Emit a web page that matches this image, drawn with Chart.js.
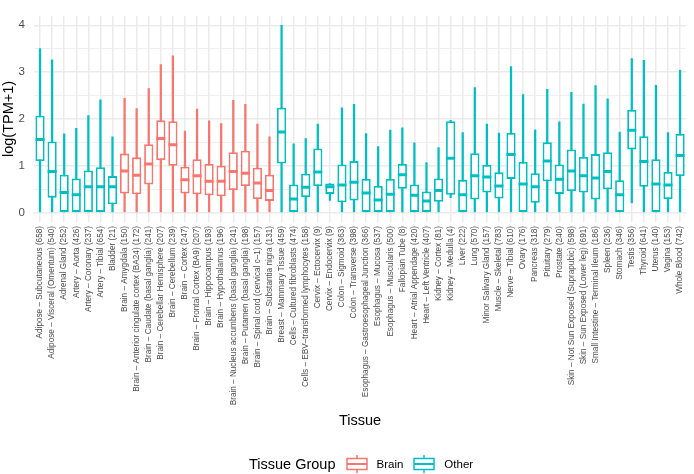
<!DOCTYPE html>
<html>
<head>
<meta charset="utf-8">
<script src="https://cdn.jsdelivr.net/npm/chart.js@4.4.0/dist/chart.umd.min.js"></script>
<style>
  body { margin: 0; background: #fff; font-family: 'Liberation Sans', Arial, sans-serif; }
  #wrap { position: relative; width: 694px; height: 474px; }
  #legend { position: absolute; left: 249px; top: 454px; height: 20px; display: flex; align-items: center; color: #000; }
  #legend .title { font-size: 14.5px; margin-right: 10px; }
  #legend .lab { font-size: 11.5px; margin: 0 10px 0 9px; }
  #legend svg { display: block; }
</style>
</head>
<body>
<div id="wrap">
  <canvas id="boxChart" width="694" height="474"></canvas>
  <div id="legend">
    <span class="title">Tissue Group</span>
    <svg width="22" height="18"><line x1="11" y1="0" x2="11" y2="18" stroke="#F8766D" stroke-width="1.5"/><rect x="1" y="3.5" width="20" height="11" fill="#fff" stroke="#F8766D" stroke-width="1.5"/><line x1="1" y1="9" x2="21" y2="9" stroke="#F8766D" stroke-width="2"/></svg>
    <span class="lab">Brain</span>
    <svg width="22" height="18"><line x1="11" y1="0" x2="11" y2="18" stroke="#00BFC4" stroke-width="1.5"/><rect x="1" y="3.5" width="20" height="11" fill="#fff" stroke="#00BFC4" stroke-width="1.5"/><line x1="1" y1="9" x2="21" y2="9" stroke="#00BFC4" stroke-width="2"/></svg>
    <span class="lab">Other</span>
  </div>
</div>
<script>
const tissues = [
  'Adipose – Subcutaneous (658)', 'Adipose – Visceral (Omentum) (540)', 'Adrenal Gland (252)',
  'Artery – Aorta (426)', 'Artery – Coronary (237)', 'Artery – Tibial (654)', 'Bladder (21)',
  'Brain – Amygdala (150)', 'Brain – Anterior cingulate cortex (BA24) (172)',
  'Brain – Caudate (basal ganglia) (241)', 'Brain – Cerebellar Hemisphere (207)',
  'Brain – Cerebellum (239)', 'Brain – Cortex (247)', 'Brain – Frontal Cortex (BA9) (207)',
  'Brain – Hippocampus (193)', 'Brain – Hypothalamus (196)',
  'Brain – Nucleus accumbens (basal ganglia) (241)', 'Brain – Putamen (basal ganglia) (198)',
  'Brain – Spinal cord (cervical c–1) (157)', 'Brain – Substantia nigra (131)',
  'Breast – Mammary Tissue (459)', 'Cells – Cultured fibroblasts (474)',
  'Cells – EBV–transformed lymphocytes (158)', 'Cervix – Ectocervix (9)', 'Cervix – Endocervix (9)',
  'Colon – Sigmoid (363)', 'Colon – Transverse (398)', 'Esophagus – Gastroesophageal Junction (366)',
  'Esophagus – Mucosa (537)', 'Esophagus – Muscularis (500)', 'Fallopian Tube (8)',
  'Heart – Atrial Appendage (420)', 'Heart – Left Ventricle (407)', 'Kidney – Cortex (81)',
  'Kidney – Medulla (4)', 'Liver (222)', 'Lung (570)', 'Minor Salivary Gland (157)',
  'Muscle – Skeletal (783)', 'Nerve – Tibial (610)', 'Ovary (176)', 'Pancreas (318)',
  'Pituitary (279)', 'Prostate (240)', 'Skin – Not Sun Exposed (Suprapubic) (598)',
  'Skin – Sun Exposed (Lower leg) (691)', 'Small Intestine – Terminal Ileum (186)', 'Spleen (236)',
  'Stomach (346)', 'Testis (356)', 'Thyroid (641)', 'Uterus (140)', 'Vagina (153)', 'Whole Blood (742)'
];

// whisker ends and box quartiles, log(TPM+1)
const lo  = [0,0,0,0,0,0,0, 0,0,0,0,0,0,0,0,0,0,0,0,0, 0,0,0,0,0.26,0,0,0,0,0,0,0,0,0,0.32,0,0,0,0,0,0,0,0,0,0,0,0,0,0,0.21,0,0,0,0];
const q1  = [1.10,0.32,0,0,0,0,0.18, 0.41,0.39,0.60,1.12,1.00,0.41,0.39,0.37,0.35,0.48,0.57,0.29,0.25,
             1.05,0,0.33,0.57,0.40,0.22,0.26,0,0,0,0.51,0,0,0.23,0.38,0,0.28,0.43,0.30,0.72,0,0.21,0.67,
             0.40,0.46,0.43,0.28,0.50,0,1.35,0.55,0,0.29,0.78];
const med = [1.56,0.88,0.43,0.38,0.55,0.55,0.55, 0.89,0.80,1.04,1.58,1.45,0.70,0.79,0.67,0.67,0.88,0.84,0.63,0.47,
             1.72,0.29,0.54,0.87,0.55,0.59,0.65,0.42,0.27,0.39,0.81,0.37,0.25,0.47,1.16,0.38,0.79,0.76,0.57,1.24,0.61,0.55,1.10,
             0.71,0.89,0.79,0.74,0.88,0.38,1.76,1.09,0.61,0.59,1.22];
const q3  = [2.07,1.52,0.81,0.73,0.90,0.97,0.78, 1.26,1.18,1.46,1.97,1.95,0.98,1.14,1.04,1.00,1.29,1.32,0.96,0.81,
             2.24,0.60,0.83,1.37,0.62,1.03,1.10,0.72,0.57,0.72,1.04,0.60,0.45,0.73,1.95,0.70,1.27,1.02,0.86,1.70,1.08,0.84,1.50,
             1.03,1.35,1.19,1.25,1.29,0.69,2.19,1.63,1.14,0.87,1.68];
const hi  = [3.50,3.26,1.68,1.80,2.07,2.41,1.62, 2.44,2.22,2.65,3.16,3.35,1.74,2.21,1.96,1.90,2.40,2.31,1.89,1.62,
             4.00,1.47,1.58,1.89,0.62,2.24,2.31,1.69,1.41,1.76,1.81,1.49,1.07,1.39,1.97,1.71,2.67,1.89,1.70,3.12,2.52,1.77,2.63,
             1.94,2.57,2.32,2.71,2.43,1.72,3.29,3.25,2.72,1.71,3.04];
const yTicks = [0, 1, 2, 3, 4];

const colBrain = '#F8766D';
const colOther = '#00BFC4';
const colors = tissues.map(t => t.startsWith('Brain') ? colBrain : colOther);

const data = {
  labels: tissues,
  datasets: [
    {
      type: 'line',
      data: med,
      showLine: false,
      pointStyle: 'line',
      pointRadius: 4.5,
      pointBorderWidth: 3,
      pointBorderColor: colors,
      pointBackgroundColor: colors,
      order: 0
    },
    {
      type: 'bar',
      data: tissues.map((t, i) => [q1[i], q3[i]]),
      backgroundColor: '#ffffff',
      borderColor: colors,
      borderWidth: 1.8,
      borderSkipped: false,
      grouped: false,
      barPercentage: 0.76,
      categoryPercentage: 1,
      order: 1
    },
    {
      type: 'bar',
      data: tissues.map((t, i) => [lo[i], hi[i]]),
      backgroundColor: colors,
      borderWidth: 0,
      grouped: false,
      barThickness: 1.6,
      order: 2
    }
  ]
};

const config = {
  type: 'bar',
  data: data,
  options: {
    responsive: false,
    animation: false,
    layout: { padding: { top: 0, right: 0, bottom: 40, left: 0 } },
    plugins: {
      legend: { display: false },
      tooltip: { enabled: false }
    },
    scales: {
      x: {
        offset: true,
        afterFit: (scale) => { scale.height = 212; },
        grid: { offset: false, color: '#EBEBEB', lineWidth: 1.5, drawTicks: false },
        border: { display: false },
        ticks: {
          autoSkip: false,
          maxRotation: 90,
          minRotation: 90,
          padding: 4,
          color: '#4D4D4D',
          font: { family: 'Liberation Sans', size: 8.2 }
        },
        title: {
          display: true,
          text: 'Tissue',
          color: '#000',
          padding: { top: 0, bottom: 4 },
          font: { family: 'Liberation Sans', size: 14.5 }
        }
      },
      y: {
        min: -0.2,
        max: 4.2,
        afterFit: (scale) => { scale.width = 34; },
        grid: {
          color: '#EBEBEB',
          lineWidth: (ctx) => yTicks.includes(ctx.tick.value) ? 1.5 : 0.8,
          drawTicks: false
        },
        border: { display: false },
        ticks: {
          stepSize: 0.5,
          includeBounds: false,
          padding: 9,
          color: '#4D4D4D',
          font: { family: 'Liberation Sans', size: 11.5 },
          callback: (v) => yTicks.includes(v) ? String(v) : ''
        },
        title: {
          display: true,
          text: 'log(TPM+1)',
          color: '#000',
          padding: 0,
          font: { family: 'Liberation Sans', size: 14.5 }
        }
      }
    }
  }
};

const boxChart = new Chart(document.getElementById('boxChart'), config);
</script>
</body>
</html>
